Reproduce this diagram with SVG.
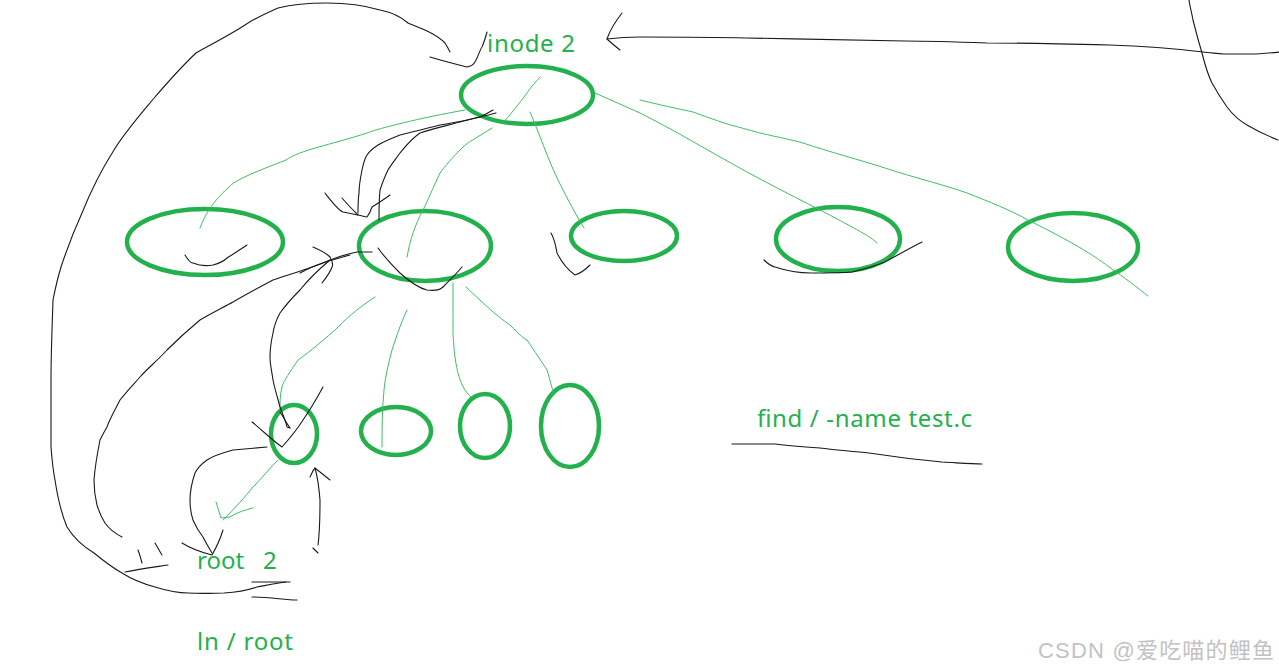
<svg xmlns="http://www.w3.org/2000/svg" width="1279" height="670" viewBox="0 0 1279 670">
<style>
.node{fill:none;stroke:#22b14c;stroke-width:4.5}
.g{fill:none;stroke:#3fbf63;stroke-width:1;stroke-linecap:round;stroke-linejoin:round}
.k{fill:none;stroke:#1a1a1a;stroke-width:1.1;stroke-linecap:round;stroke-linejoin:round}
.t{font-family:"Noto Sans","Open Sans","Liberation Sans",sans-serif;font-size:24px;fill:#22b14c}
.wm{font-family:"Liberation Sans","Noto Sans CJK SC",sans-serif;font-size:22px;fill:#c2c2c2}
</style>
<rect width="1279" height="670" fill="#fff"/>
<g id="inode2"><ellipse class="node" cx="527" cy="95" rx="66" ry="29"/><text class="t" x="487" y="52" textLength="88">inode 2</text></g>
<g id="dir1"><ellipse class="node" cx="205" cy="242" rx="78" ry="33"/></g>
<g id="dir2"><ellipse class="node" cx="425" cy="246" rx="66" ry="35"/></g>
<g id="dir3"><ellipse class="node" cx="624" cy="236" rx="53" ry="25"/></g>
<g id="dir4"><ellipse class="node" cx="838" cy="239" rx="62" ry="32"/></g>
<g id="dir5"><ellipse class="node" cx="1073" cy="247" rx="65" ry="34"/></g>
<g id="sub1"><ellipse class="node" cx="294" cy="434" rx="23" ry="29"/></g>
<g id="sub2"><ellipse class="node" cx="396" cy="431" rx="35" ry="24"/></g>
<g id="sub3"><ellipse class="node" cx="485" cy="426" rx="25" ry="32"/></g>
<g id="sub4"><ellipse class="node" cx="570" cy="426" rx="29" ry="41"/></g>
<g id="labels">
<text class="t" x="197" y="569">root</text>
<text class="t" x="263" y="569">2</text>
<text class="t" x="197" y="650" textLength="96">ln / root</text>
<text class="t" x="757" y="427" textLength="215">find / -name test.c</text>
<text class="wm" x="1038" y="658" textLength="236">CSDN @爱吃喵的鲤鱼</text>
</g>
<g id="connectors">
<path class="g" d="M465,110 C420,118 380,128 367,133 C330,145 300,150 286,160 C255,172 235,180 229,187 C212,202 205,215 200,228"/>
<path class="g" d="M492,128 C478,137 468,142 463,147 C452,158 445,166 440,173 C432,190 428,200 423,210 C415,225 410,240 407,257"/>
<path class="g" d="M540,77 C533,85 530,88 527,93 C518,105 510,115 503,123"/>
<path class="g" d="M530,112 C538,130 548,160 559,182 C568,200 576,215 584,228"/>
<path class="g" d="M595,93 C610,100 625,106 640,113 C680,133 720,158 762,180 C790,195 825,212 852,227 C865,234 872,238 877,243"/>
<path class="g" d="M640,100 C660,105 675,108 693,112 C710,118 725,124 742,128 C765,135 785,138 803,143 C830,152 860,160 885,168 C915,178 945,185 967,193 C990,202 1010,210 1028,220 C1060,236 1090,252 1109,267 C1125,278 1138,288 1148,296"/>
<path class="g" d="M375,297 C355,310 345,320 335,330 C318,345 305,355 298,360 C290,372 284,380 282,387 C280,395 280,402 280,407"/>
<path class="g" d="M407,310 C400,325 396,338 392,350 C388,365 385,378 384,390 C382,410 382,430 382,447"/>
<path class="g" d="M453,283 C453,300 453,320 453,335 C454,345 454,352 455,357 C457,372 460,382 465,390 C467,393 469,395 471,397"/>
<path class="g" d="M466,287 C480,300 495,315 510,325 C520,335 525,340 527,340 C535,352 542,362 547,370 C550,380 552,388 554,395"/>
<path class="g" d="M278,460 C268,470 262,478 253,487 C245,497 235,508 223,520"/>
<path class="g" d="M216,502 L221,518 L230,517 C238,512 245,510 253,508"/>
<path class="k" d="M450,52 C448,48 447,46 445,43 C435,33 420,28 408,23 C400,16 390,12 380,10 C360,4 345,3 327,3 C305,3 290,5 278,8 C265,14 255,18 245,25 C228,36 210,45 196,53 C180,68 168,82 155,97 C140,115 125,132 114,150 C100,172 90,193 82,213 C72,235 66,252 61,267 C57,280 55,290 53,300 C52,330 51,355 51,380 C51,405 51,430 51,447 C52,460 53,470 55,480 C58,500 62,515 67,527 C75,540 84,547 94,553 C105,562 113,568 122,573 C133,580 144,584 155,587 C168,591 178,593 188,593 C205,594 215,593 224,593 C240,592 248,590 257,587 C268,585 278,583 286,582"/>
<path class="k" d="M430,57 C440,60 455,64 467,67 C472,66 474,64 475,62 C479,55 481,47 482,47 C485,40 486,36 487,32"/>
<path class="k" d="M252,582 L290,582"/>
<path class="k" d="M252,597 C270,597 285,600 297,600"/>
<path class="k" d="M1280,52 C1270,53 1260,54 1252,54 C1240,54 1230,54 1224,54 C1215,53 1209,53 1203,52 C1170,48 1140,46 1109,45 C1070,44 1030,43 987,43 C960,42 930,41 905,41 C860,40 800,39 746,38 C710,37 680,37 640,37 C625,37 615,38 607,39"/>
<path class="k" d="M622,13 C615,22 610,30 607,39 C610,42 615,46 620,50"/>
<path class="k" d="M1189,0 C1190,7 1192,14 1193,20 C1196,32 1199,43 1202,53 C1205,65 1208,75 1212,83 C1217,92 1222,100 1227,107 C1233,115 1240,121 1247,125 C1257,131 1268,136 1278,140"/>
<path class="k" d="M493,110 C488,113 484,115 480,117 C465,121 452,123 440,125 C425,129 412,132 400,135 C390,139 383,142 378,145 C372,149 369,152 367,155 C364,160 363,165 362,170 C360,180 359,186 359,193 C358,200 358,207 358,213"/>
<path class="k" d="M496,113 C485,116 470,119 460,122 C445,126 432,129 420,133 C410,140 405,147 400,153 C395,160 391,165 388,170 C384,178 382,184 380,190 C379,200 379,210 379,220"/>
<path class="k" d="M325,193 C332,202 338,210 343,212 C348,213 353,214 358,215 C363,216 365,217 367,217 C370,213 371,210 372,207 C380,202 386,198 390,195"/>
<path class="k" d="M342,198 C348,205 353,210 358,215"/>
<path class="k" d="M378,248 C385,258 393,266 400,273 C410,282 418,288 427,290 C435,291 440,290 443,287 C450,280 457,273 462,267"/>
<path class="k" d="M372,252 C367,252 362,252 357,252 C348,254 340,256 333,259 C325,262 317,265 310,268 C305,270 302,272 300,273"/>
<path class="k" d="M350,255 C340,258 330,260 323,263 C305,270 288,275 273,280 C258,288 245,295 233,302 C222,308 210,314 200,320 C188,330 177,340 167,350 C158,360 148,368 140,377 C133,385 126,392 120,400 C115,410 110,418 107,427 C104,432 102,436 100,440 C97,455 95,467 94,480 C94,490 95,497 97,505 C100,515 103,520 105,523 C110,530 116,534 122,537"/>
<path class="k" d="M313,247 C320,250 326,253 330,257 C333,262 333,265 332,267 C330,273 326,278 322,283"/>
<path class="k" d="M330,260 C318,270 308,280 300,290 C292,298 285,306 280,313 C276,320 274,327 273,333 C271,342 270,350 270,357 C270,365 272,372 273,380 C275,390 278,399 280,407 C283,415 286,422 287,427 L290,428"/>
<path class="k" d="M280,412 C284,418 287,424 290,428"/>
<path class="k" d="M252,422 C262,430 272,440 282,447 C290,438 298,428 303,420 C310,410 317,398 323,387"/>
<path class="k" d="M267,447 C255,448 244,449 233,450 C222,453 213,456 207,460 C200,465 197,469 195,473 C192,482 190,490 190,500 C190,508 191,514 193,520 C196,527 199,532 203,537 C206,543 209,548 212,553"/>
<path class="k" d="M182,543 C190,548 200,552 212,555 C216,548 220,540 223,530"/>
<path class="k" d="M313,548 C316,551 317,552 318,553"/>
<path class="k" d="M318,545 C320,530 320,515 320,500 C319,488 318,478 315,468"/>
<path class="k" d="M310,477 C312,473 313,470 315,468 C320,472 325,476 330,480"/>
<path class="k" d="M138,550 C140,555 141,559 142,563"/>
<path class="k" d="M155,543 C158,548 160,552 162,555"/>
<path class="k" d="M125,572 C140,569 155,567 168,565"/>
<path class="k" d="M185,255 C188,260 190,263 193,263 C200,266 207,266 213,265 C220,263 224,261 227,258 C235,253 241,249 247,245"/>
<path class="k" d="M551,233 C555,240 556,247 557,253 C562,263 568,270 575,275 C582,273 586,269 590,265"/>
<path class="k" d="M764,260 C768,264 771,266 775,267 C787,271 800,273 811,273 C825,273 840,273 852,272 C865,269 875,266 885,262 C898,255 910,248 922,242"/>
<path class="k" d="M732,444 C750,444 765,444 775,444 C790,446 805,447 820,448 C835,450 852,451 869,453 C895,457 920,460 942,462 C960,463 972,464 982,464"/>
</g>
</svg>
